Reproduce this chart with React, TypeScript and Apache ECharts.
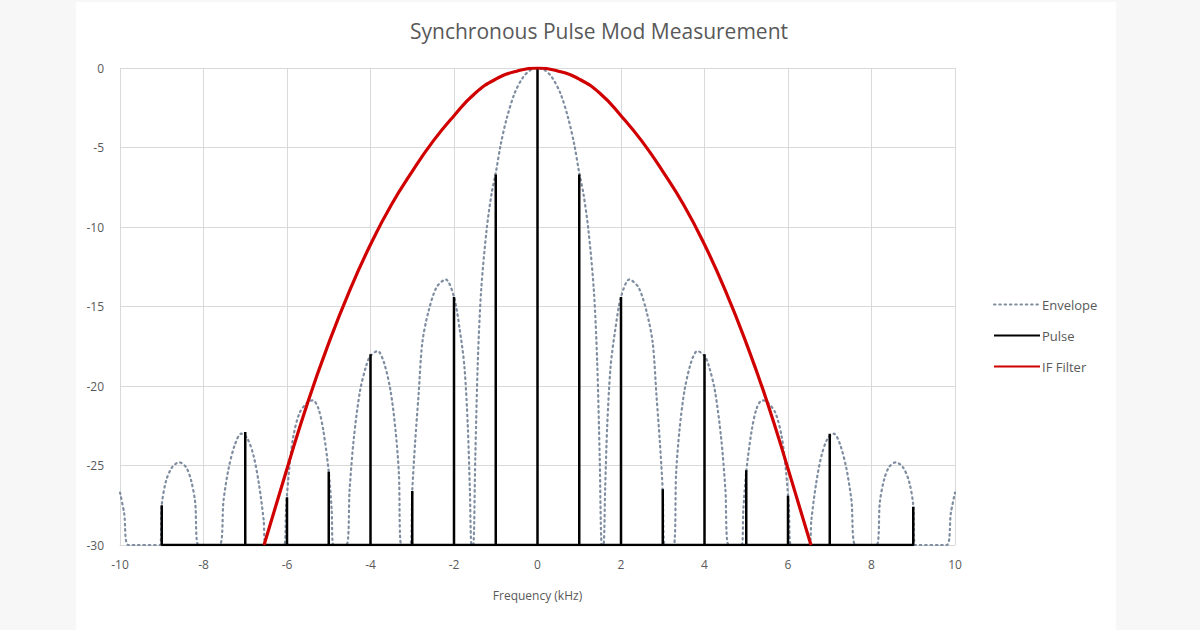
import React, { useEffect, useRef } from "react";
import * as echarts from "echarts";

// Envelope (dB) sampled along the frequency axis (kHz), clipped at -30
const envelopeX = [
  -10, -9.9, -9.8, -9.04, -9.0, -8.9, -8.75, -8.58, -8.42, -8.3, -8.2, -8.12,
  -7.62, -7.52, -7.4, -7.25, -7.1, -6.95, -6.8, -6.67, -6.56, -6.5,
  -6.07, -6.02, -5.95, -5.85, -5.7, -5.5, -5.38, -5.25, -5.13, -5.0, -4.93, -4.89,
  -4.58, -4.5, -4.4, -4.25, -4.1, -4.0, -3.83, -3.68, -3.52, -3.4, -3.32, -3.26,
  -3.05, -3.0, -2.93, -2.85, -2.76, -2.62, -2.42, -2.2, -2.0, -1.86, -1.75, -1.67, -1.62, -1.58,
  -1.54, -1.49, -1.43, -1.35, -1.22, -1.1, -1.0, -0.88, -0.74, -0.55, -0.35, -0.18, 0,
  0.18, 0.35, 0.55, 0.74, 0.88, 1.0, 1.1, 1.22, 1.35, 1.43, 1.49, 1.54,
  1.58, 1.62, 1.67, 1.75, 1.86, 2.0, 2.2, 2.42, 2.62, 2.76, 2.85, 2.93, 3.0, 3.05,
  3.26, 3.32, 3.4, 3.52, 3.68, 3.83, 4.0, 4.1, 4.25, 4.4, 4.5, 4.58,
  4.89, 4.93, 5.0, 5.13, 5.25, 5.38, 5.5, 5.7, 5.85, 5.95, 6.02, 6.07,
  6.5, 6.56, 6.67, 6.8, 6.95, 7.1, 7.25, 7.4, 7.52, 7.62,
  8.12, 8.2, 8.3, 8.42, 8.58, 8.75, 8.9, 9.0, 9.04, 9.8, 9.9, 10,
];
const envelopeY = [
  -26.7, -28.0, -30, -30, -27.5, -26.0, -25.1, -24.8, -25.1, -25.9, -27.3, -30,
  -30, -27.2, -25.2, -23.7, -23.0, -23.3, -24.4, -26.2, -28.4, -30,
  -30, -27.6, -25.3, -23.2, -21.7, -21.0, -20.9, -21.4, -22.8, -25.4, -27.8, -30,
  -30, -26.5, -23.3, -20.3, -18.7, -18.1, -17.8, -18.5, -20.3, -22.8, -25.5, -30,
  -30, -26.6, -23.5, -20.6, -17.3, -15.4, -13.8, -13.3, -14.4, -16.5, -18.8, -22.5, -26.5, -30,
  -30, -24.5, -18.5, -14.0, -10.2, -7.9, -6.6, -4.8, -3.2, -1.6, -0.6, -0.15, 0,
  -0.15, -0.6, -1.6, -3.2, -4.8, -6.6, -7.9, -10.2, -14.0, -18.5, -24.5, -30,
  -30, -26.5, -22.5, -18.8, -16.5, -14.4, -13.3, -13.8, -15.4, -17.3, -20.6, -23.5, -26.6, -30,
  -30, -25.5, -22.8, -20.3, -18.5, -17.8, -18.1, -18.7, -20.3, -23.3, -26.5, -30,
  -30, -27.8, -25.4, -22.8, -21.4, -20.9, -21.0, -21.7, -23.2, -25.3, -27.6, -30,
  -30, -28.4, -26.2, -24.4, -23.3, -23.0, -23.7, -25.2, -27.2, -30,
  -30, -27.3, -25.9, -25.1, -24.8, -25.1, -26.0, -27.5, -30, -30, -28.0, -26.7,
];

// Pulse spectral lines at integer frequencies (kHz) and their levels (dB)
const pulseX = [-9, -8, -7, -6, -5, -4, -3, -2, -1, 0, 1, 2, 3, 4, 5, 6, 7, 8, 9];
const pulseY = [
  -27.5, -30, -22.9, -27.0, -25.4, -18.0, -26.6, -14.4, -6.7, 0,
  -6.7, -14.4, -26.5, -18.0, -25.3, -26.9, -23.0, -30, -27.6,
];

// IF filter response (dB)
const filterX = [
  -6.55, -6.0, -5.5, -5.0, -4.5, -4.0, -3.5, -3.0, -2.5, -2.0, -1.5, -1.0, -0.5, 0,
  0.5, 1.0, 1.5, 2.0, 2.5, 3.0, 3.5, 4.0, 4.5, 5.0, 5.5, 6.0, 6.55,
];
const filterY = [
  -30, -25.2, -21.0, -17.3, -14.0, -11.1, -8.6, -6.5, -4.6, -3.0, -1.6, -0.7, -0.2, 0,
  -0.2, -0.7, -1.6, -3.0, -4.6, -6.5, -8.6, -11.1, -14.0, -17.3, -21.0, -25.2, -30,
];

const yTicks = { min: -30, max: 0, step: 5 };
const xTicks = { min: -10, max: 10, step: 2 };

const FONT = "'Open Sans', 'Noto Sans', sans-serif";
const TEXT = "#595959";
const GRID = "#d9d9d9";

export default function App() {
  const ref = useRef<HTMLDivElement>(null);

  useEffect(() => {
    if (!ref.current) return;
    const chart = echarts.init(ref.current, undefined, { renderer: "svg" });

    const envelope = envelopeX.map((x, i) => [x, envelopeY[i]]);
    const pulse: number[][] = [];
    pulseX.forEach((x, i) => {
      pulse.push([x, yTicks.min], [x, pulseY[i]], [x, yTicks.min]);
    });
    const filter = filterX.map((x, i) => [x, filterY[i]]);

    chart.setOption({
      animation: false,
      backgroundColor: "#f7f7f7",
      graphic: [
        {
          type: "rect",
          z: -10,
          silent: true,
          shape: { x: 76, y: 2, width: 1040, height: 628 },
          style: { fill: "#ffffff" },
        },
      ],
      textStyle: { fontFamily: FONT },
      title: {
        text: "Synchronous Pulse Mod Measurement",
        left: 594,
        top: 15,
        textAlign: "center",
        textStyle: { color: TEXT, fontSize: 21, fontWeight: "normal", fontFamily: FONT },
      },
      legend: {
        orient: "vertical",
        left: 988,
        top: 293,
        itemWidth: 46,
        itemHeight: 10,
        itemGap: 18,
        itemStyle: { color: "transparent", borderWidth: 0, opacity: 0 },
        textStyle: { color: TEXT, fontSize: 13, fontFamily: FONT, padding: [0, 0, 0, -3] },
        data: ["Envelope", "Pulse", "IF Filter"],
      },
      grid: { left: 120, right: 245, top: 68, bottom: 85, containLabel: false },
      xAxis: {
        type: "value",
        min: xTicks.min,
        max: xTicks.max,
        interval: xTicks.step,
        name: "Frequency (kHz)",
        nameLocation: "middle",
        nameGap: 44,
        nameTextStyle: { color: TEXT, fontSize: 12, fontFamily: FONT },
        axisLine: { show: true, onZero: false, lineStyle: { color: GRID, width: 1 } },
        axisTick: { show: false },
        axisLabel: { color: TEXT, fontSize: 12, margin: 13, fontFamily: FONT },
        splitLine: { show: true, lineStyle: { color: GRID, width: 1 } },
      },
      yAxis: {
        type: "value",
        min: yTicks.min,
        max: yTicks.max,
        interval: yTicks.step,
        axisLine: { show: false },
        axisTick: { show: false },
        axisLabel: { color: TEXT, fontSize: 12, margin: 16, fontFamily: FONT },
        splitLine: { show: true, lineStyle: { color: GRID, width: 1 } },
      },
      series: [
        {
          name: "Envelope",
          type: "line",
          data: envelope,
          symbol: "none",
          smooth: 0.3,
          lineStyle: { color: "#7f8da0", width: 2.2, type: [1.5, 3.8], cap: "round" },
          itemStyle: { color: "#7f8da0" },
          z: 2,
        },
        {
          name: "Pulse",
          type: "line",
          data: pulse,
          symbol: "none",
          lineStyle: { color: "#000000", width: 2.5 },
          itemStyle: { color: "#000000" },
          z: 3,
        },
        {
          name: "IF Filter",
          type: "line",
          data: filter,
          symbol: "none",
          smooth: 0.5,
          lineStyle: { color: "#d00000", width: 3.2 },
          itemStyle: { color: "#d00000" },
          z: 4,
        },
      ],
    });

    return () => chart.dispose();
  }, []);

  return (
    <div
      ref={ref}
      style={{ position: "fixed", left: 0, top: 0, width: 1200, height: 630 }}
    />
  );
}
